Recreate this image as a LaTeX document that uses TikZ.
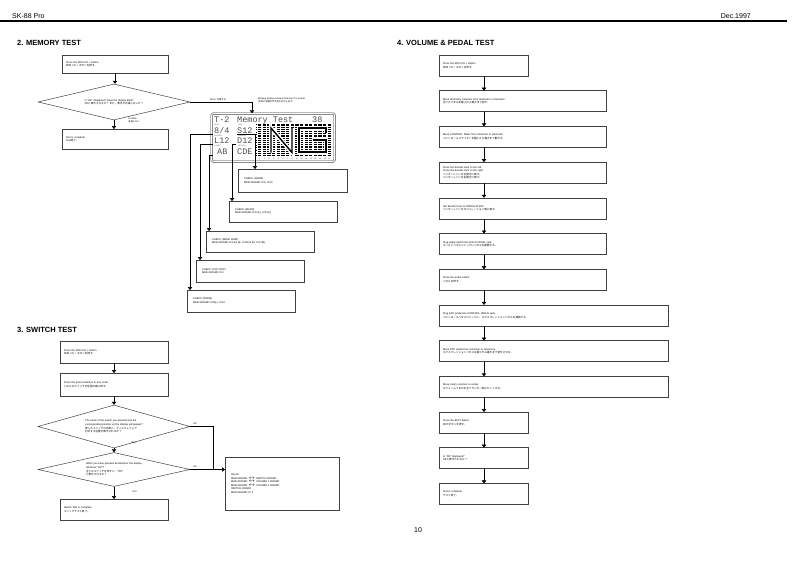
\documentclass[tikz,border=0pt]{standalone}
\usepackage{fontspec}
\setmainfont{Liberation Sans}
\newfontfamily\jp{Noto Sans CJK JP}
\newfontfamily\lcdf{Liberation Mono}
\usetikzlibrary{shapes.geometric,arrows.meta,positioning}
\newcommand{\tfs}{\fontsize{2.6}{3.6}\selectfont}
\tikzset{
  b/.style={rectangle,draw=black!75,line width=.5pt,anchor=north west,align=left,font=\tfs,inner xsep=4pt,inner ysep=1.5pt,outer sep=0pt,minimum height=21pt},
  cb/.style={b,inner xsep=6pt},
  dm/.style={diamond,draw=black!75,line width=.5pt,inner sep=0pt,align=left,font=\tfs,minimum width=152pt},
  arr/.style={-{Triangle[width=4.5pt,length=3pt]},line width=.5pt},
  lbl/.style={font=\fontsize{2.3}{3.1}\selectfont,inner sep=0pt,align=left},
  ttl/.style={font=\fontsize{7.5}{8}\selectfont\bfseries,anchor=west,inner sep=0pt},
  hd/.style={font=\fontsize{7}{8}\selectfont,inner sep=0pt},
  lcdt/.style={font=\lcdf\fontsize{8.5}{9}\selectfont,text=black!70,anchor=base west,inner sep=0pt},
  lcds/.style={font=\fontsize{1.8}{2}\selectfont,text=black!70,anchor=west,inner sep=0pt},
}
\begin{document}
\begin{tikzpicture}[x=1pt,y=-1pt]
  \useasboundingbox (0,0) rectangle (793,560);
  % page header
  \node[hd,anchor=base west] (hl) at (12,18) {SK-88 Pro};
  \node[hd,anchor=base east] (hr) at (751,18) {Dec.1997};
  \draw[line width=1.2pt] (0,21) -- (787,21);
  \node[hd] (pg) at (418,530) {10};

  % 2. memory test
  \node[ttl] (t2) at (17,43) {2. MEMORY TEST};
  \node[b,text width=98pt,minimum height=18pt] (m1) at (62,55) {Press the MIDI CH + button.\\{\jp MIDI CH + ボタンを押す。}};
  \node[dm,aspect=4.2,minimum height=36pt] (md) at (114,102) {Is "OK" displayed? Does the display blink?\\{\jp OKと表示されるか？ また、表示が点滅しないか？}};
  \node[b,text width=98pt,minimum height=20pt] (m2) at (62,129) {Test is complete.\\{\jp Test終了。}};
  \draw[arr] (m1.south) -- (m1.south |- md.north);
  \draw[arr] (md.south) -- (md.south |- m2.north);
  \node[lbl,anchor=north west] (nb) at (128,118) {not blink\\{\jp 点滅しない}};
  \node[draw=black!80,line width=.5pt,double=white,double distance=1pt,rounded corners=1.5pt,minimum width=123pt,minimum height=48pt,inner sep=0pt] (lcd) at (273,137.5) {};
  \coordinate (bk) at (252,102);
  \draw[arr] (md.east) -- (bk) -- (bk |- lcd.north);
  \node[lbl,anchor=base west] (bl) at (210,100.5) {blink / {\jp 点滅する}};
  \node[lbl,anchor=west] (bd) at (258,100.5) {Blinking display indicates that the IC is at fault.\\{\jp 点滅する箇所が不良ICを示します。}};
  % lcd contents
  \node[lcdt] (l1a) at (214,122) {T-2};
  \node[lcdt] (l1b) at (237,122) {Memory Test};
  \node[lcdt] (l1c) at (312,122) {38};
  \node[lcdt] (l2a) at (214,133.5) {8/4};
  \node[lcdt] (l2b) at (237,133.5) {S12};
  \node[lcdt] (l3a) at (214,143.5) {L12};
  \node[lcdt] (l3b) at (237,143.5) {D12};
  \node[lcdt] (l4a) at (217,154.5) {AB};
  \node[lcdt] (l4b) at (237,154.5) {CDE};
  \node[lcds] (s1a) at (214,125.3) {LEVEL};
  \node[lcds] (s1b) at (238,125.3) {PAN};
  \node[lcds] (s2a) at (214,136.2) {REVERB};
  \node[lcds] (s2b) at (238,136.2) {CHORUS};
  \node[lcds] (s3a) at (214,146.3) {K.SHIFT};
  \node[lcds] (s3b) at (238,146.3) {MELODY};
  \draw[dotted,line width=.6pt] (255.8,124) -- (255.8,156);
  \foreach \i [evaluate=\i as \n using int(\i+1)] in {0,...,15} {
    \fill (258+\i*4.65,123.5) rectangle ++(3.3,32.5);
    \node[font=\fontsize{1.8}{2}\selectfont,inner sep=0pt] (nb\n) at (259.65+\i*4.65,158.8) {\n};
  }
  \foreach \k in {1,...,14} \draw[white,line width=.2pt] (257,123.5+\k*2.2) -- (333,123.5+\k*2.2);
  \draw[white,line width=4.2pt] (271,152.5) -- (271,128) -- (292,152.5) -- (292,128);
  \draw[line width=1.4pt] (271,152.5) -- (271,128) -- (292,152.5) -- (292,128);
  \draw[white,line width=4.2pt] (326,133) -- (326,128) -- (299,128) -- (299,152) -- (326,152) -- (326,140) -- (313,140);
  \draw[line width=1.4pt] (326,133) -- (326,128) -- (299,128) -- (299,152) -- (326,152) -- (326,140) -- (313,140);
  % checks
  \node[cb,text width=97pt,minimum height=23pt] (sram) at (238,169) {CHECK (SRAM)\\MAIN BOARD IC9, IC10};
  \node[cb,text width=96pt] (dram) at (229,201) {CHECK (DRAM)\\MAIN BOARD IC11(L), IC12(L)};
  \node[cb,text width=96pt] (wave) at (206,231) {CHECK (WAVE ROM)\\MAIN BOARD IC13(L,B), IC15(2L,B), IC17(B)};
  \node[cb,text width=96pt,minimum height=22pt] (lsp) at (196,260) {CHECK (LSP CHIP)\\MAIN BOARD IC4};
  \node[cb,text width=96pt,minimum height=22pt] (prem) at (187,290) {CHECK (PREM)\\MAIN BOARD IC8(L), IC14};
  \coordinate (c84) at (213,134); \coordinate (cl12) at (213,144.5); \coordinate (cab) at (213,155);
  \coordinate (cd12) at (236,144.5); \coordinate (cs12) at (237,134);
  \draw[arr] (c84) -| ([xshift=3pt]prem.north west);
  \draw[arr] (cl12) -| ([xshift=4pt]lsp.north west);
  \draw[arr] (cab) -| ([xshift=3pt]wave.north west);
  \draw[arr] (cd12) -| ([xshift=3pt]dram.north west);
  \draw[arr] (cs12) -| ([xshift=17pt]sram.north west);

  % 3. switch test
  \node[ttl] (t3) at (17,330) {3. SWITCH TEST};
  \node[b,text width=100pt,minimum height=22pt] (s1) at (60,341) {Press the MIDI CH + button.\\{\jp MIDI CH + ボタンを押す。}};
  \node[b,text width=100pt,minimum height=23pt] (s2) at (60,373) {Press the panel switches in any order.\\{\jp パネルのスイッチを任意の順に押す。}};
  \node[dm,aspect=3.5,minimum height=43pt] (sd1) at (114,426.5) {The name of the switch you pressed and the\\corresponding position on the display will appear?\\{\jp 押したスイッチの名称と、ディスプレイ上で}\\{\jp 対応する位置が表示されるか？}};
  \node[dm,aspect=4.4,minimum height=34pt] (sd2) at (114,469.5) {When you have pressed all switches, the display\\will show "OK"?\\{\jp 全てのスイッチを押すと、"OK"}\\{\jp と表示されるか？}};
  \node[b,text width=100pt] (s3) at (60,499) {Switch Test is complete.\\{\jp スイッチテスト終了。}};
  \node[cb,text width=102pt,minimum height=53pt] (sck) at (225,457) {Check:\\MAIN BOARD $\leftrightarrow$ SWITCH BOARD\\MAIN BOARD $\leftrightarrow$ VOLUME 1 BOARD\\MAIN BOARD $\leftrightarrow$ VOLUME 2 BOARD\\SWITCH BOARD\\MAIN BOARD IC 2};
  \draw[arr] (s1.south) -- (s1.south |- s2.north); \draw[arr] (s2.south) -- (s2.south |- sd1.north);
  \draw[arr] (sd1) -- (sd2); \draw[arr] (sd2.south) -- (sd2.south |- s3.north);
  \coordinate (jn) at (213,469.5);
  \draw[line width=.5pt] (sd1.east) -| (jn);
  \draw[arr] (sd2.east) -- (sd2.east -| sck.west);
  \node[lbl,anchor=south west] (no1) at (193,425) {NO};
  \node[lbl,anchor=south west] (no2) at (193,468) {NO};
  \node[lbl,anchor=west] (ye1) at (131,443) {YES};
  \node[lbl,anchor=west] (ye2) at (132,492) {YES};

  % 4. volume & pedal test
  \node[ttl] (t4) at (397,43) {4. VOLUME \& PEDAL TEST};
  \node[b,text width=81pt] (v1) at (439,55) {Press the MIDI CH + button.\\{\jp MIDI CH + ボタンを押す。}};
  \node[b,text width=159pt,below=14.7pt of v1.south west,anchor=north west] (v2) {Move all Rotary Volumes from minimum to maximum.\\{\jp 全てのつまみを最小から最大まで回す。}};
  \node[b,text width=159pt,below=14.7pt of v2.south west,anchor=north west] (v3) {Move CONTROL Slider from minimum to maximum.\\{\jp コントロールスライダーを最小から最大まで動かす。}};
  \node[b,text width=159pt,below=14.7pt of v3.south west,anchor=north west] (v4) {Press the bender lever to the left.\\Press the bender lever to the right.\\{\jp ベンダーレバーを左側方に倒す。}\\{\jp ベンダーレバーを右側方に倒す。}};
  \node[b,text width=159pt,below=14.7pt of v4.south west,anchor=north west] (v5) {Set bender lever to MODULATION.\\{\jp ベンダーレバーをモジュレーション側に倒す。}};
  \node[b,text width=159pt,below=14.7pt of v5.south west,anchor=north west] (v6) {Plug pedal switch into HOLD PEDAL jack.\\{\jp ホールドペダルジャックにペダルを接続する。}};
  \node[b,text width=159pt,below=14.7pt of v6.south west,anchor=north west] (v7) {Press the pedal switch.\\{\jp ペダルを押す。}};
  \node[b,text width=221pt,below=14.7pt of v7.south west,anchor=north west] (v8) {Plug EXP pedal into CONTROL PEDAL jack.\\{\jp コントロールペダルジャックに、エクスプレッションペダルを接続する。}};
  \node[b,text width=221pt,below=14.7pt of v8.south west,anchor=north west] (v9) {Move EXP pedal from minimum to maximum.\\{\jp エクスプレッションペダルを最小から最大まで変化させる。}};
  \node[b,text width=221pt,below=14.7pt of v9.south west,anchor=north west] (v10) {Move rotary volumes to center.\\{\jp ボリュームつまみを全てセンター側にセットする。}};
  \node[b,text width=81pt,below=14.7pt of v10.south west,anchor=north west] (v11) {Press the EDIT button.\\{\jp EDITボタンを押す。}};
  \node[b,text width=81pt,below=14.7pt of v11.south west,anchor=north west] (v12) {Is "OK" displayed?\\{\jp OKと表示されるか？}};
  \node[b,text width=81pt,below=14.7pt of v12.south west,anchor=north west] (v13) {Test is complete.\\{\jp テスト終了。}};
  \draw[arr] ([xshift=45pt]v1.south west) -- ([xshift=45pt]v2.north west); \draw[arr] ([xshift=45pt]v2.south west) -- ([xshift=45pt]v3.north west);
  \draw[arr] ([xshift=45pt]v3.south west) -- ([xshift=45pt]v4.north west); \draw[arr] ([xshift=45pt]v4.south west) -- ([xshift=45pt]v5.north west);
  \draw[arr] ([xshift=45pt]v5.south west) -- ([xshift=45pt]v6.north west); \draw[arr] ([xshift=45pt]v6.south west) -- ([xshift=45pt]v7.north west);
  \draw[arr] ([xshift=45pt]v7.south west) -- ([xshift=45pt]v8.north west); \draw[arr] ([xshift=45pt]v8.south west) -- ([xshift=45pt]v9.north west);
  \draw[arr] ([xshift=45pt]v9.south west) -- ([xshift=45pt]v10.north west); \draw[arr] ([xshift=45pt]v10.south west) -- ([xshift=45pt]v11.north west);
  \draw[arr] ([xshift=45pt]v11.south west) -- ([xshift=45pt]v12.north west); \draw[arr] ([xshift=45pt]v12.south west) -- ([xshift=45pt]v13.north west);
\end{tikzpicture}
\end{document}
